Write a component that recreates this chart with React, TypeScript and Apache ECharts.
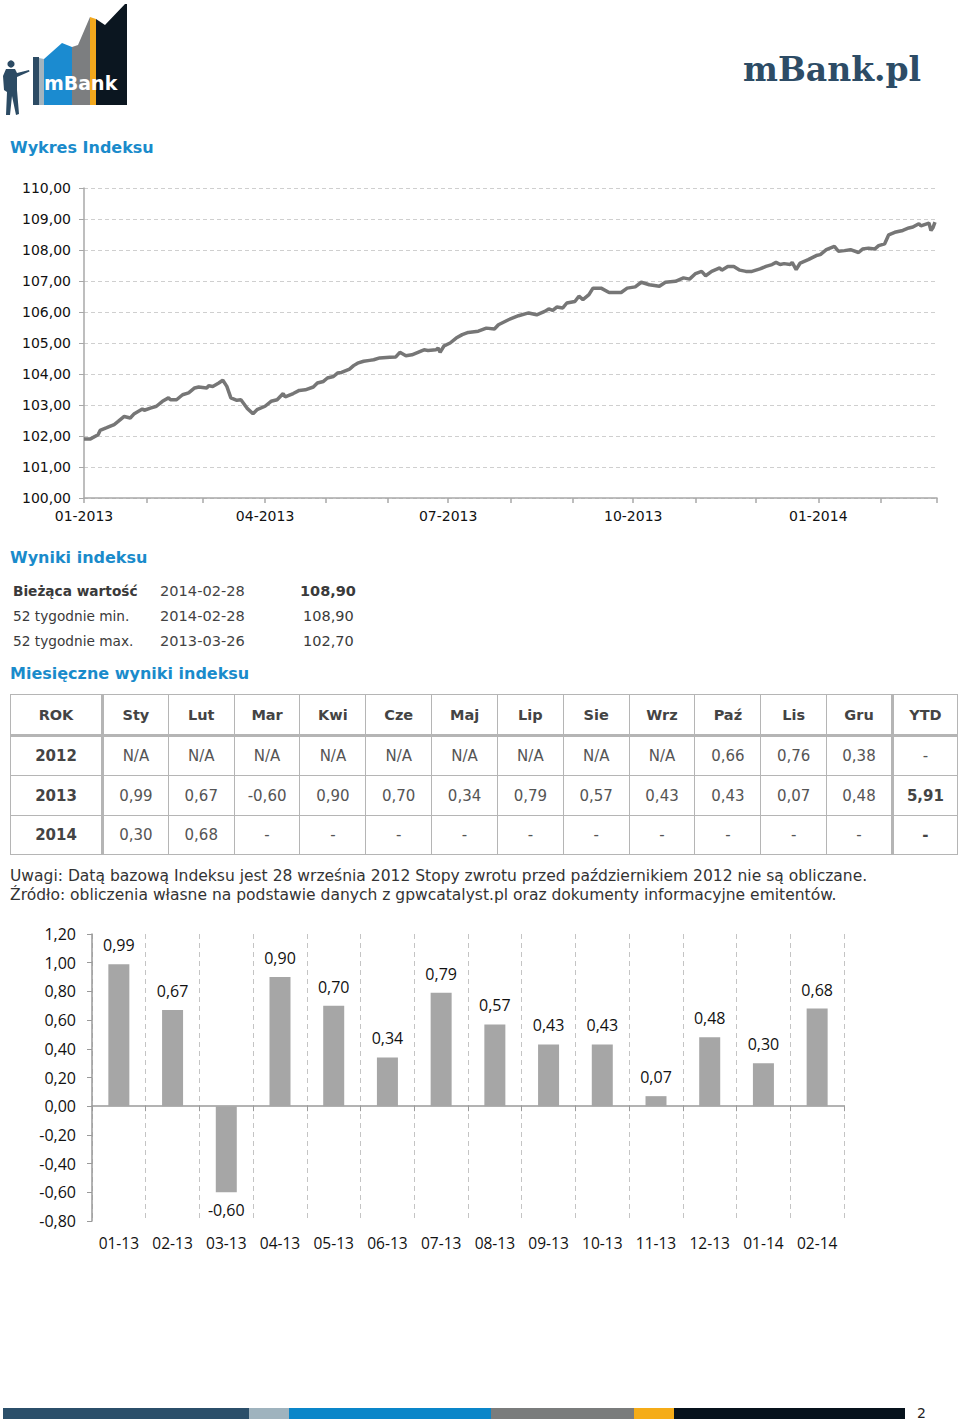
import React, { useEffect, useRef } from "react";
import * as echarts from "echarts";

// ---------- DATA ----------
const lineDates = [
  "2013-01-01","2013-01-04","2013-01-08","2013-01-09","2013-01-12","2013-01-16","2013-01-18","2013-01-21","2013-01-24","2013-01-26","2013-01-30","2013-01-31",
  "2013-02-03","2013-02-06","2013-02-09","2013-02-12","2013-02-13","2013-02-16","2013-02-19","2013-02-22","2013-02-25","2013-02-27",
  "2013-03-03","2013-03-04","2013-03-06","2013-03-09","2013-03-11","2013-03-13","2013-03-15","2013-03-18","2013-03-20","2013-03-23","2013-03-26","2013-03-28",
  "2013-04-01","2013-04-04","2013-04-07","2013-04-10","2013-04-11","2013-04-15","2013-04-18","2013-04-21","2013-04-25","2013-04-27","2013-04-30",
  "2013-05-02","2013-05-05","2013-05-07","2013-05-09","2013-05-13","2013-05-15","2013-05-17","2013-05-20","2013-05-23","2013-05-25","2013-05-28",
  "2013-06-02","2013-06-05","2013-06-07","2013-06-10","2013-06-13","2013-06-16","2013-06-19","2013-06-21","2013-06-25","2013-06-26","2013-06-27","2013-06-29",
  "2013-07-02","2013-07-05","2013-07-08","2013-07-11","2013-07-16","2013-07-20","2013-07-24","2013-07-26","2013-07-31",
  "2013-08-05","2013-08-10","2013-08-14","2013-08-18","2013-08-20","2013-08-22","2013-08-24","2013-08-27","2013-08-29",
  "2013-09-02","2013-09-04","2013-09-06","2013-09-09","2013-09-11","2013-09-15","2013-09-19","2013-09-25","2013-09-28",
  "2013-10-02","2013-10-05","2013-10-09","2013-10-14","2013-10-17","2013-10-22","2013-10-26","2013-10-29",
  "2013-11-01","2013-11-04","2013-11-06","2013-11-09","2013-11-13","2013-11-14","2013-11-17","2013-11-20","2013-11-23","2013-11-26","2013-11-29",
  "2013-12-03","2013-12-06","2013-12-09","2013-12-11","2013-12-13","2013-12-15","2013-12-18","2013-12-19","2013-12-21","2013-12-23","2013-12-27","2013-12-31",
  "2014-01-02","2014-01-05","2014-01-09","2014-01-11","2014-01-14","2014-01-17","2014-01-21","2014-01-23","2014-01-26","2014-01-29","2014-01-31",
  "2014-02-03","2014-02-05","2014-02-08","2014-02-12","2014-02-15","2014-02-17","2014-02-20","2014-02-21","2014-02-25","2014-02-26","2014-02-27","2014-02-28",
];
const lineValues = [
  101.90,101.90,102.04,102.18,102.26,102.37,102.47,102.63,102.58,102.72,102.87,102.83,
  102.90,102.96,103.12,103.23,103.17,103.17,103.33,103.39,103.55,103.58,
  103.55,103.62,103.60,103.71,103.80,103.60,103.23,103.15,103.17,102.90,102.72,102.85,
  102.96,103.12,103.17,103.37,103.26,103.37,103.47,103.49,103.58,103.71,103.76,
  103.87,103.92,104.03,104.05,104.16,104.27,104.35,104.41,104.44,104.46,104.52,
  104.54,104.55,104.70,104.59,104.62,104.70,104.78,104.76,104.78,104.84,104.70,104.91,
  105.00,105.16,105.27,105.34,105.38,105.48,105.45,105.59,105.75,
  105.88,105.97,105.91,106.02,106.10,106.05,106.16,106.13,106.29,
  106.34,106.51,106.40,106.56,106.77,106.77,106.63,106.63,106.77,
  106.81,106.96,106.88,106.83,106.96,106.99,107.10,107.06,
  107.24,107.31,107.17,107.31,107.42,107.35,107.47,107.47,107.35,107.31,107.31,
  107.39,107.47,107.53,107.60,107.53,107.56,107.53,107.60,107.37,107.58,107.69,107.82,
  107.85,108.01,108.12,107.96,107.98,108.01,107.92,108.03,108.06,108.03,108.14,
  108.20,108.49,108.57,108.63,108.71,108.74,108.85,108.78,108.87,108.63,108.72,108.90,
];
const lineAxisStart = "2013-01-01";
const lineAxisEnd = "2014-03-01";
const lineQuarterMonths = ["01", "04", "07", "10"];

const barMonths = ["01-13","02-13","03-13","04-13","05-13","06-13","07-13","08-13","09-13","10-13","11-13","12-13","01-14","02-14"];
const barValues = [0.99, 0.67, -0.60, 0.90, 0.70, 0.34, 0.79, 0.57, 0.43, 0.43, 0.07, 0.48, 0.30, 0.68];

const infoRows = [
  ["Bieżąca wartość", "2014-02-28", "108,90"],
  ["52 tygodnie min.", "2014-02-28", "108,90"],
  ["52 tygodnie max.", "2013-03-26", "102,70"],
];
const tableHeader = ["ROK","Sty","Lut","Mar","Kwi","Cze","Maj","Lip","Sie","Wrz","Paź","Lis","Gru","YTD"];
const tableRows = [
  ["2012","N/A","N/A","N/A","N/A","N/A","N/A","N/A","N/A","N/A","0,66","0,76","0,38","-"],
  ["2013","0,99","0,67","-0,60","0,90","0,70","0,34","0,79","0,57","0,43","0,43","0,07","0,48","5,91"],
  ["2014","0,30","0,68","-","-","-","-","-","-","-","-","-","-","-"],
];
const noteLines = [
  "Uwagi: Datą bazową Indeksu jest 28 września 2012 Stopy zwrotu przed październikiem 2012 nie są obliczane.",
  "Źródło: obliczenia własne na podstawie danych z gpwcatalyst.pl oraz dokumenty informacyjne emitentów.",
];

const fmt = (v: number) => v.toFixed(2).replace(".", ",");

function buildCategories(start: string, end: string) {
  const out: string[] = [];
  const d = new Date(start + "T00:00:00Z");
  const e = new Date(end + "T00:00:00Z").getTime();
  while (d.getTime() <= e) {
    out.push(d.toISOString().slice(0, 10));
    d.setUTCDate(d.getUTCDate() + 1);
  }
  return out;
}

const BLUE = "#1a8bcb";
const TXT = "#3a3a3a";

export default function App() {
  const ref = useRef<HTMLDivElement>(null);

  useEffect(() => {
    if (!ref.current) return;
    const chart = echarts.init(ref.current, undefined, { renderer: "svg" });
    const cats = buildCategories(lineAxisStart, lineAxisEnd);
    const lineData = lineDates.map((dt, i) => [cats.indexOf(dt), lineValues[i]]);
    const barData = barValues.map((v) => ({
      value: v,
      label: { position: v < 0 ? "bottom" : "top", distance: v < 0 ? 10 : 11 },
    }));

    const slate = "#2c4b64";
    const graphic: any[] = [
      // left logo
      { type: "polygon", shape: { points: [[33, 57], [39, 57], [39, 105], [33, 105]] }, style: { fill: slate } },
      { type: "polygon", shape: { points: [[39, 58], [44, 59], [44, 105], [39, 105]] }, style: { fill: "#a3b4bf" } },
      { type: "polygon", shape: { points: [[44, 59], [62, 43], [72, 47], [72, 105], [44, 105]] }, style: { fill: "#1b8bd0" } },
      { type: "polygon", shape: { points: [[72, 47], [78, 45], [90, 17], [90, 105], [72, 105]] }, style: { fill: "#7c7e80" } },
      { type: "polygon", shape: { points: [[90, 17], [96, 19], [96, 105], [90, 105]] }, style: { fill: "#f2a81d" } },
      { type: "polygon", shape: { points: [[96, 19], [105, 25], [125, 4], [127, 4], [127, 105], [96, 105]] }, style: { fill: "#0b1620" } },
      { type: "text", x: 44, y: 83, style: { text: "mBank", fill: "#ffffff", font: "bold 19px 'DejaVu Sans'", textVerticalAlign: "middle" } },
      // man
      { type: "circle", shape: { cx: 11, cy: 64, r: 3.6 }, style: { fill: slate } },
      { type: "polygon", shape: { points: [[6, 69], [15, 69], [17, 73], [29, 70], [29.5, 71.5], [17, 77], [17, 90], [19, 114], [16, 115], [12, 96], [10, 115], [6, 115], [7, 92], [4, 90], [3, 76]] }, style: { fill: slate } },
      // right logo text
      { type: "text", x: 743, y: 69, style: { text: "mBank.pl", fill: "#2d4c66", font: "bold 33px 'DejaVu Serif'", textVerticalAlign: "middle" } },
      // bottom color bar
      { type: "rect", shape: { x: 3, y: 1408, width: 246, height: 11 }, style: { fill: "#2b4f6a" } },
      { type: "rect", shape: { x: 249, y: 1408, width: 40, height: 11 }, style: { fill: "#9fb3be" } },
      { type: "rect", shape: { x: 289, y: 1408, width: 202, height: 11 }, style: { fill: "#0a86c9" } },
      { type: "rect", shape: { x: 491, y: 1408, width: 143, height: 11 }, style: { fill: "#7a7c7c" } },
      { type: "rect", shape: { x: 634, y: 1408, width: 40, height: 11 }, style: { fill: "#f5ac18" } },
      { type: "rect", shape: { x: 674, y: 1408, width: 231, height: 11 }, style: { fill: "#06121c" } },
      { type: "text", x: 917, y: 1413, style: { text: "2", fill: "#222", font: "14px 'DejaVu Sans'", textVerticalAlign: "middle" } },
    ];

    chart.setOption({
      animation: false,
      backgroundColor: "#ffffff",
      graphic,
      grid: [
        { left: 84, top: 188, width: 853, height: 310 },
        { left: 92, top: 934, width: 752, height: 287 },
      ],
      xAxis: [
        {
          gridIndex: 0,
          type: "category",
          data: cats,
          boundaryGap: false,
          axisLine: { lineStyle: { color: "#a8a8a8", width: 1.5 } },
          axisTick: {
            show: true,
            length: 5,
            interval: (_i: number, v: string) => v.endsWith("-01"),
            lineStyle: { color: "#a8a8a8", width: 1.5 },
          },
          axisLabel: {
            interval: (_i: number, v: string) => v.endsWith("-01") && lineQuarterMonths.includes(v.slice(5, 7)),
            formatter: (v: string) => v.slice(5, 7) + "-" + v.slice(0, 4),
            fontFamily: "DejaVu Sans",
            fontSize: 14,
            color: "#111",
            margin: 11,
          },
          splitLine: { show: false },
        },
        {
          gridIndex: 1,
          type: "category",
          data: barMonths,
          position: "bottom",
          axisLine: { show: false, onZero: false },
          axisTick: { show: false },
          axisLabel: { fontFamily: "Open Sans", fontSize: 15.5, color: "#111", margin: 14 },
          splitLine: { show: true, lineStyle: { color: "#c4c4c4", type: [5, 4], width: 1 } },
        },
        {
          gridIndex: 1,
          type: "category",
          data: barMonths,
          position: "top",
          axisLine: { show: true, onZero: true, lineStyle: { color: "#9a9a9a", width: 1.5 } },
          axisTick: { show: true, inside: true, length: 5, lineStyle: { color: "#9a9a9a" } },
          axisLabel: { show: false },
          splitLine: { show: false },
        },
      ],
      yAxis: [
        {
          gridIndex: 0,
          type: "value",
          min: 100,
          max: 110,
          interval: 1,
          axisLine: { show: true, lineStyle: { color: "#a8a8a8", width: 1.5 } },
          axisTick: { show: true, length: 5, lineStyle: { color: "#a8a8a8" } },
          axisLabel: { formatter: fmt, fontFamily: "DejaVu Sans", fontSize: 14, color: "#111", margin: 13 },
          splitLine: { show: true, lineStyle: { color: "#cfcfcf", type: [4, 3], width: 1 } },
        },
        {
          gridIndex: 1,
          type: "value",
          min: -0.8,
          max: 1.2,
          interval: 0.2,
          axisLine: { show: true, lineStyle: { color: "#9a9a9a", width: 1.5 } },
          axisTick: { show: true, length: 5, lineStyle: { color: "#9a9a9a" } },
          axisLabel: { formatter: fmt, fontFamily: "Open Sans", fontSize: 16, color: "#111", margin: 16 },
          splitLine: { show: false },
        },
      ],
      series: [
        {
          type: "line",
          xAxisIndex: 0,
          yAxisIndex: 0,
          data: lineData,
          showSymbol: false,
          symbol: "none",
          lineStyle: { color: "#767676", width: 3.5 },
          z: 5,
        },
        {
          type: "bar",
          xAxisIndex: 1,
          yAxisIndex: 1,
          data: barData,
          barWidth: 21,
          itemStyle: { color: "#a6a6a6" },
          label: {
            show: true,
            formatter: (p: any) => fmt(p.value),
            fontFamily: "Open Sans",
            fontSize: 16,
            color: "#111",
          },
          z: 3,
        },
      ],
    });
    return () => chart.dispose();
  }, []);

  const abs = (left: number, cy: number, lh = 20): React.CSSProperties => ({
    position: "absolute",
    left,
    top: cy - lh / 2,
    lineHeight: lh + "px",
    whiteSpace: "nowrap",
  });

  const colW = (i: number) => (i === 0 ? 92 : i === 13 ? 65 : 65.83);
  const rowH = [41, 40, 40, 39];
  const borderC = "#b5b5b5";

  const cellStyle = (ri: number, ci: number): React.CSSProperties => ({
    width: colW(ci),
    height: rowH[ri],
    padding: 0,
    textAlign: "center",
    verticalAlign: "middle",
    borderTop: ri === 1 ? `3px solid ${borderC}` : `1px solid ${borderC}`,
    borderBottom: `1px solid ${borderC}`,
    borderLeft: ci === 1 ? `3px solid ${borderC}` : ci === 13 ? `3px solid ${borderC}` : `1px solid ${borderC}`,
    borderRight: `1px solid ${borderC}`,
    fontSize: ri === 0 ? 14.5 : 15,
    boxSizing: "border-box",
  });

  return (
    <div style={{ position: "absolute", left: 0, top: 0, width: 960, height: 1421, background: "#fff", fontFamily: "'DejaVu Sans', Verdana, sans-serif", overflow: "hidden" }}>
      <div ref={ref} style={{ position: "absolute", left: 0, top: 0, width: 960, height: 1421 }} />
      <div style={{ position: "absolute", left: 0, top: 0, width: 960, height: 1421, pointerEvents: "none" }}>
        <div style={{ ...abs(10, 148), color: BLUE, fontWeight: "bold", fontSize: 16 }}>Wykres Indeksu</div>
        <div style={{ ...abs(10, 558), color: BLUE, fontWeight: "bold", fontSize: 16 }}>Wyniki indeksu</div>
        {infoRows.map((r, i) => (
          <React.Fragment key={i}>
            <div style={{ ...abs(13, 591 + i * 25), color: TXT, fontSize: 13.7, fontWeight: i === 0 ? "bold" : "normal" }}>{r[0]}</div>
            <div style={{ ...abs(160, 591 + i * 25), color: "#444", fontSize: 14.6 }}>{r[1]}</div>
            <div style={{ ...abs(i === 0 ? 300 : 303, 591 + i * 25), color: TXT, fontSize: 14.5, fontWeight: i === 0 ? "bold" : "normal" }}>{r[2]}</div>
          </React.Fragment>
        ))}
        <div style={{ ...abs(10, 674), color: BLUE, fontWeight: "bold", fontSize: 16 }}>Miesięczne wyniki indeksu</div>
        <table style={{ position: "absolute", left: 10, top: 694, width: 947, borderCollapse: "collapse", tableLayout: "fixed" }}>
          <tbody>
            <tr>
              {tableHeader.map((h, ci) => (
                <td key={ci} style={{ ...cellStyle(0, ci), fontWeight: "bold", color: "#444" }}>{h}</td>
              ))}
            </tr>
            {tableRows.map((row, ri) => (
              <tr key={ri}>
                {row.map((c, ci) => (
                  <td
                    key={ci}
                    style={{
                      ...cellStyle(ri + 1, ci),
                      fontWeight: ci === 0 || (ci === 13 && ri > 0) ? "bold" : "normal",
                      color: ci === 0 || (ci === 13 && ri > 0) ? "#444" : "#555",
                    }}
                  >
                    {c}
                  </td>
                ))}
              </tr>
            ))}
          </tbody>
        </table>
        {noteLines.map((t, i) => (
          <div key={i} style={{ ...abs(10, 876 + i * 19), color: "#333", fontSize: 16, transform: "scaleX(0.97)", transformOrigin: "left center" }}>{t}</div>
        ))}
      </div>
    </div>
  );
}
